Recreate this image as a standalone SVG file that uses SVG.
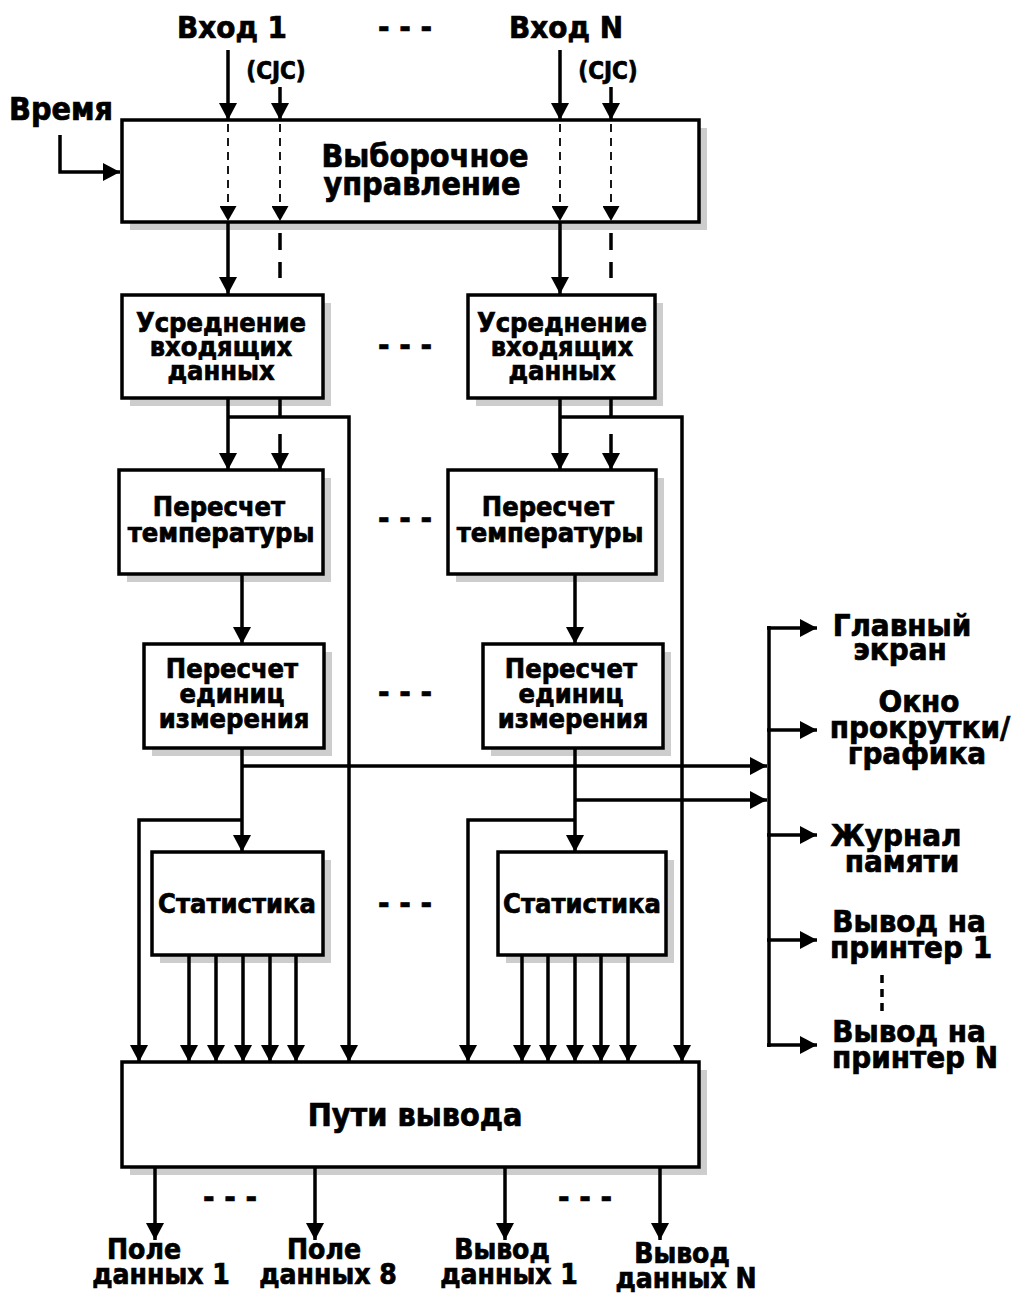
<svg xmlns="http://www.w3.org/2000/svg" width="1019" height="1293" viewBox="0 0 1019 1293">
<style>
text{font-family:"DejaVu Sans Condensed","DejaVu Sans",sans-serif;font-weight:bold;fill:#000;stroke:#000;stroke-width:0.7;text-anchor:middle}
.box{fill:#fff;stroke:#000;stroke-width:3.5}
.sh{fill:#cdcdcd}
.ln{fill:none;stroke:#000;stroke-width:3.5}
.dt{fill:none;stroke:#000;stroke-width:1.8;stroke-dasharray:8 6}
.top{font-size:31px}
.big{font-size:32px}
.mid{font-size:27px}
.lab{font-size:31px}
.bot{font-size:28px}
.sm{font-size:24px}
</style>
<defs>
<marker id="a" markerUnits="userSpaceOnUse" markerWidth="17" markerHeight="18" viewBox="0 0 17 18" refX="17" refY="9" orient="auto"><path d="M0,0 L17,9 L0,18 z" fill="#000"/></marker>
<marker id="s" markerUnits="userSpaceOnUse" markerWidth="15" markerHeight="17" viewBox="0 0 15 17" refX="15" refY="8.5" orient="auto"><path d="M0,0 L15,8.5 L0,17 z" fill="#000"/></marker>
</defs>
<rect width="1019" height="1293" fill="#fff"/>

<g id="labels-top">
<text class="top" x="232" y="38">Вход 1</text>
<text class="top" x="566" y="38">Вход N</text>
<text class="top" x="405" y="38">- - -</text>
<text class="sm" x="276" y="79">(CJC)</text>
<text class="sm" x="608" y="79">(CJC)</text>
<text class="big" x="61" y="120">Время</text>
</g>

<g id="n-sel">
<rect class="sh" x="130" y="128" width="577" height="102"/>
<rect class="box" x="122" y="120" width="577" height="102"/>
<text class="big" x="425" y="167">Выборочное</text>
<text class="big" x="422" y="195">управление</text>
</g>

<g id="n-avg1">
<rect class="sh" x="130" y="303" width="201" height="103"/>
<rect class="box" x="122" y="295" width="201" height="103"/>
<text class="mid" x="221" y="332">Усреднение</text>
<text class="mid" x="221" y="356">входящих</text>
<text class="mid" x="221" y="380">данных</text>
</g>
<g id="n-avg2">
<rect class="sh" x="476" y="303" width="187" height="103"/>
<rect class="box" x="468" y="295" width="187" height="103"/>
<text class="mid" x="562" y="332">Усреднение</text>
<text class="mid" x="562" y="356">входящих</text>
<text class="mid" x="562" y="380">данных</text>
</g>

<g id="n-temp1">
<rect class="sh" x="127" y="478" width="204" height="104"/>
<rect class="box" x="119" y="470" width="204" height="104"/>
<text class="mid" x="219" y="516">Пересчет</text>
<text class="mid" x="221" y="542">температуры</text>
</g>
<g id="n-temp2">
<rect class="sh" x="456" y="478" width="208" height="104"/>
<rect class="box" x="448" y="470" width="208" height="104"/>
<text class="mid" x="548" y="516">Пересчет</text>
<text class="mid" x="550" y="542">температуры</text>
</g>

<g id="n-unit1">
<rect class="sh" x="152" y="652" width="180" height="104"/>
<rect class="box" x="144" y="644" width="180" height="104"/>
<text class="mid" x="232" y="678">Пересчет</text>
<text class="mid" x="232" y="703">единиц</text>
<text class="mid" x="234" y="728">измерения</text>
</g>
<g id="n-unit2">
<rect class="sh" x="491" y="652" width="180" height="104"/>
<rect class="box" x="483" y="644" width="180" height="104"/>
<text class="mid" x="571" y="678">Пересчет</text>
<text class="mid" x="571" y="703">единиц</text>
<text class="mid" x="573" y="728">измерения</text>
</g>

<g id="n-stat1">
<rect class="sh" x="160" y="860" width="171" height="103"/>
<rect class="box" x="152" y="852" width="171" height="103"/>
<text class="mid" x="237" y="913">Статистика</text>
</g>
<g id="n-stat2">
<rect class="sh" x="506" y="860" width="168" height="103"/>
<rect class="box" x="498" y="852" width="168" height="103"/>
<text class="mid" x="582" y="913">Статистика</text>
</g>

<g id="n-out">
<rect class="sh" x="130" y="1070" width="577" height="105"/>
<rect class="box" x="122" y="1062" width="577" height="105"/>
<text class="big" x="415" y="1126">Пути вывода</text>
</g>

<g id="dots">
<text class="top" x="405" y="356">- - -</text>
<text class="top" x="405" y="529">- - -</text>
<text class="top" x="405" y="703">- - -</text>
<text class="top" x="405" y="914">- - -</text>
<text class="top" x="230" y="1208">- - -</text>
<text class="top" x="585" y="1208">- - -</text>
<path class="ln" d="M882,975 V983 M882,989 V997 M882,1003 V1011"/>
</g>

<g id="labels-right">
<text class="lab" x="902" y="636">Главный</text>
<text class="lab" x="900" y="660">экран</text>
<text class="lab" x="919" y="712">Окно</text>
<text class="lab" x="920" y="738">прокрутки/</text>
<text class="lab" x="917" y="764">графика</text>
<text class="lab" x="896" y="846">Журнал</text>
<text class="lab" x="902" y="872">памяти</text>
<text class="lab" x="909" y="932">Вывод на</text>
<text class="lab" x="911" y="958">принтер 1</text>
<text class="lab" x="909" y="1042">Вывод на</text>
<text class="lab" x="915" y="1068">принтер N</text>
</g>

<g id="labels-bottom">
<text class="bot" x="144" y="1259">Поле</text>
<text class="bot" x="161" y="1284">данных 1</text>
<text class="bot" x="324" y="1259">Поле</text>
<text class="bot" x="328" y="1284">данных 8</text>
<text class="bot" x="502" y="1259">Вывод</text>
<text class="bot" x="509" y="1284">данных 1</text>
<text class="bot" x="682" y="1263">Вывод</text>
<text class="bot" x="686" y="1288">данных N</text>
</g>

<g id="connectors">
<path class="ln" marker-end="url(#a)" d="M228,50 V120"/>
<path class="ln" marker-end="url(#a)" d="M280,87 V120"/>
<path class="ln" marker-end="url(#a)" d="M560,50 V120"/>
<path class="ln" marker-end="url(#a)" d="M611,87 V120"/>
<path class="ln" marker-end="url(#a)" d="M60,135 V172 H120"/>
<path class="dt" marker-end="url(#s)" d="M228,124 V221"/>
<path class="dt" marker-end="url(#s)" d="M280,124 V221"/>
<path class="dt" marker-end="url(#s)" d="M560,124 V221"/>
<path class="dt" marker-end="url(#s)" d="M611,124 V221"/>
<path class="ln" marker-end="url(#a)" d="M228,222 V294"/>
<path class="ln" marker-end="url(#a)" d="M560,222 V294"/>
<path class="ln" d="M280,233 V250 M280,262 V278 M611,233 V250 M611,262 V278"/>
<path class="ln" marker-end="url(#a)" d="M228,398 V470"/>
<path class="ln" marker-end="url(#a)" d="M228,417 H349 V1062"/>
<path class="ln" d="M280,398 V417"/>
<path class="ln" marker-end="url(#a)" d="M280,434 V470"/>
<path class="ln" marker-end="url(#a)" d="M560,398 V470"/>
<path class="ln" marker-end="url(#a)" d="M560,417 H682 V1062"/>
<path class="ln" d="M611,398 V417"/>
<path class="ln" marker-end="url(#a)" d="M611,434 V470"/>
<path class="ln" marker-end="url(#a)" d="M242,574 V644"/>
<path class="ln" marker-end="url(#a)" d="M575,574 V644"/>
<path class="ln" marker-end="url(#a)" d="M242,748 V852"/>
<path class="ln" marker-end="url(#a)" d="M242,766 H767"/>
<path class="ln" marker-end="url(#a)" d="M242,820 H139 V1062"/>
<path class="ln" marker-end="url(#a)" d="M575,748 V852"/>
<path class="ln" marker-end="url(#a)" d="M575,800 H767"/>
<path class="ln" marker-end="url(#a)" d="M575,820 H468 V1062"/>
<path class="ln" marker-end="url(#a)" d="M189,955 V1062"/>
<path class="ln" marker-end="url(#a)" d="M216,955 V1062"/>
<path class="ln" marker-end="url(#a)" d="M243,955 V1062"/>
<path class="ln" marker-end="url(#a)" d="M270,955 V1062"/>
<path class="ln" marker-end="url(#a)" d="M296,955 V1062"/>
<path class="ln" marker-end="url(#a)" d="M522,955 V1062"/>
<path class="ln" marker-end="url(#a)" d="M548,955 V1062"/>
<path class="ln" marker-end="url(#a)" d="M575,955 V1062"/>
<path class="ln" marker-end="url(#a)" d="M601,955 V1062"/>
<path class="ln" marker-end="url(#a)" d="M628,955 V1062"/>
<path class="ln" d="M769,626 V1047"/>
<path class="ln" marker-end="url(#a)" d="M767,628 H817"/>
<path class="ln" marker-end="url(#a)" d="M767,730 H817"/>
<path class="ln" marker-end="url(#a)" d="M767,835 H817"/>
<path class="ln" marker-end="url(#a)" d="M767,940 H817"/>
<path class="ln" marker-end="url(#a)" d="M767,1045 H817"/>
<path class="ln" marker-end="url(#a)" d="M155,1167 V1240"/>
<path class="ln" marker-end="url(#a)" d="M315,1167 V1240"/>
<path class="ln" marker-end="url(#a)" d="M505,1167 V1240"/>
<path class="ln" marker-end="url(#a)" d="M660,1167 V1240"/>
</g>
</svg>
